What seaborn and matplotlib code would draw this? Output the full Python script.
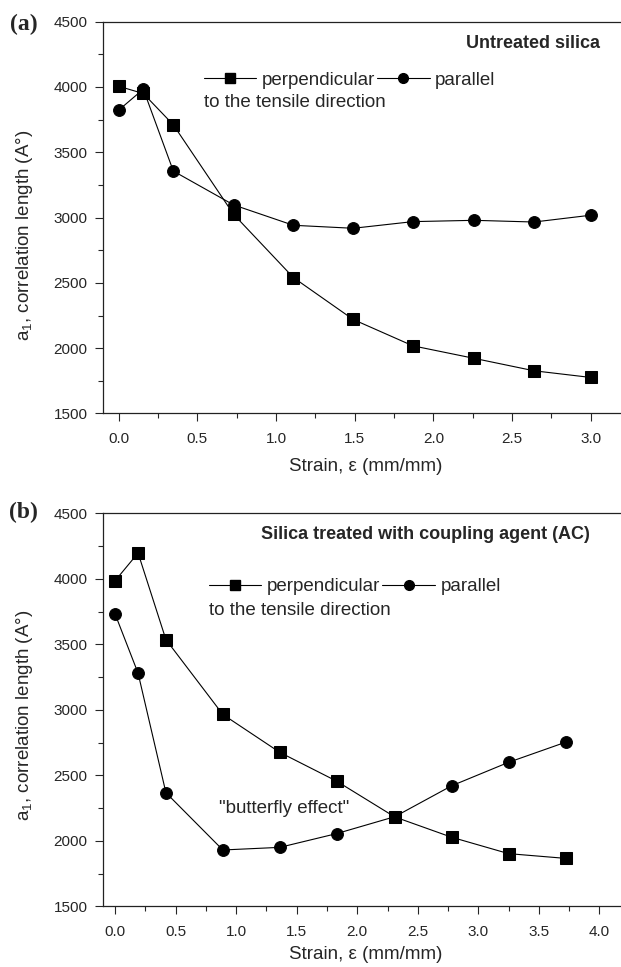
import pandas as pd
import matplotlib
matplotlib.use('Agg')
import matplotlib.pyplot as plt
from matplotlib.lines import Line2D
from matplotlib.ticker import MultipleLocator, FormatStrFormatter
import seaborn as sns

# Panel (a): untreated silica
strain_a = [0.0, 0.156, 0.347, 0.73, 1.11, 1.49, 1.87, 2.26, 2.64, 3.0]
perp_a = [4005, 3950, 3710, 3025, 2541, 2220, 2018, 1922, 1827, 1776]
par_a = [3823, 3983, 3356, 3097, 2941, 2918, 2969, 2979, 2966, 3018]

# Panel (b): silica treated with coupling agent
strain_b = [0.0, 0.19, 0.42, 0.89, 1.36, 1.83, 2.31, 2.78, 3.25, 3.72]
perp_b = [3985, 4197, 3536, 2965, 2676, 2456, 2183, 2028, 1903, 1867]
par_b = [3732, 3280, 2368, 1931, 1951, 2056, 2185, 2421, 2600, 2753]

panel_labels = ['(a)', '(b)']
titles = ['Untreated silica', 'Silica treated with coupling agent (AC)']
series_names = ['perpendicular', 'parallel']
ylabel = 'a$_1$, correlation length (A\u00b0)'
xlabel = 'Strain, \u03b5 (mm/mm)'

sns.set_style('ticks')
plt.rcParams['font.family'] = ['Liberation Sans', 'DejaVu Sans']
plt.rcParams['mathtext.fontset'] = 'custom'
plt.rcParams['mathtext.rm'] = 'Liberation Sans'
plt.rcParams['mathtext.it'] = 'Liberation Sans'


def make_df(strain, perp, par):
    return pd.DataFrame({
        'strain': strain * 2,
        'a1': perp + par,
        'orientation': ['perpendicular'] * len(perp) + ['parallel'] * len(par),
    })


fig = plt.figure(figsize=(6.21, 9.67), dpi=100)
ax_a = fig.add_axes([0.1654, 0.5724, 0.8346, 0.4052])
ax_b = fig.add_axes([0.1654, 0.0626, 0.8346, 0.4066])

# (axes, data, xlim, title x, legend anchor, second legend line y, xlabel top y, ylabel y, panel label y)
configs = [
    (ax_a, make_df(strain_a, perp_a, par_a), (-0.102, 3.193), 0.9595, (0.195, 0.851), 0.794, -0.114, 0.455, 0.975),
    (ax_b, make_df(strain_b, perp_b, par_b), (-0.102, 4.178), 0.940, (0.205, 0.813), 0.752, -0.1, 0.487, 0.4702),
]

for i, (ax, df, xlim, title_x, leg_pos, sub_y, xl_y, yl_y, pl_y) in enumerate(configs):
    sns.lineplot(data=df, x='strain', y='a1', style='orientation',
                 markers={'perpendicular': 's', 'parallel': 'o'}, dashes=False,
                 color='black', linewidth=0.8, markersize=8.5, markeredgecolor='black',
                 sort=False, legend=False, ax=ax)
    ax.set_xlim(*xlim)
    ax.set_ylim(1500, 4500)
    ax.xaxis.set_major_locator(MultipleLocator(0.5))
    ax.xaxis.set_minor_locator(MultipleLocator(0.25))
    ax.yaxis.set_major_locator(MultipleLocator(500))
    ax.yaxis.set_minor_locator(MultipleLocator(250))
    ax.xaxis.set_major_formatter(FormatStrFormatter('%.1f'))
    ax.tick_params(which='major', direction='out', length=6, width=0.8, labelsize=11, pad=7)
    ax.tick_params(which='minor', direction='out', length=3.5, width=0.8)
    ax.tick_params(axis='y', pad=5)
    ax.spines['right'].set_visible(False)
    for s in ['top', 'left', 'bottom']:
        ax.spines[s].set_linewidth(0.9)
        ax.spines[s].set_color('#222222')
    ax.set_xlabel(xlabel, fontsize=13.5)
    ax.set_ylabel(ylabel, fontsize=13.5)
    ax.xaxis.set_label_coords(0.507, xl_y)
    ax.yaxis.set_label_coords(-0.13, yl_y)
    ax.text(title_x, 0.945, titles[i], transform=ax.transAxes, ha='right', va='center',
            fontsize=13, fontweight='bold')

    handles = [
        Line2D([], [], color='black', linewidth=0.8, marker='s', markersize=7),
        Line2D([], [], color='black', linewidth=0.8, marker='o', markersize=7),
    ]
    ax.legend(handles, series_names, ncol=2, frameon=False, loc='center left',
              bbox_to_anchor=leg_pos, borderpad=0, borderaxespad=0, handlelength=2.8,
              handletextpad=0.3, columnspacing=0.1, fontsize=13.5)
    ax.text(leg_pos[0], sub_y, 'to the tensile direction', transform=ax.transAxes,
            ha='left', va='center', fontsize=13.5)

    fig.text(0.0383, pl_y, panel_labels[i], ha='center', va='center',
             fontsize=17, fontweight='bold', family='Liberation Serif')

ax_b.text(0.86, 2250, '"butterfly effect"', ha='left', va='center', fontsize=13.5)

fig.savefig('out.png', dpi=100)
